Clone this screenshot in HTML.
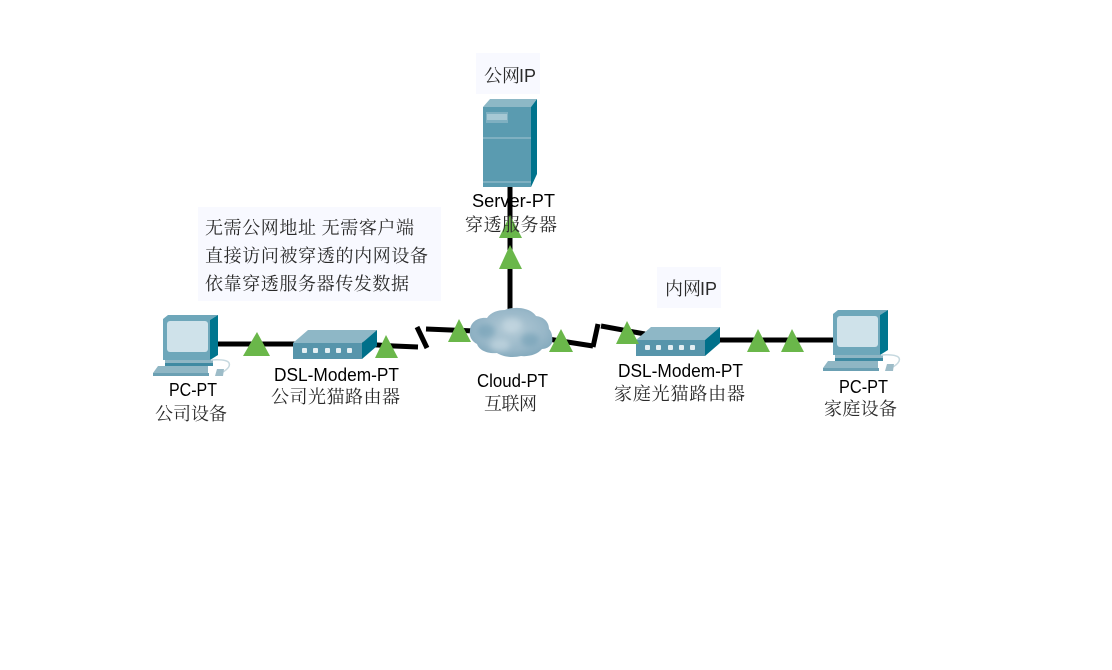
<!DOCTYPE html>
<html><head><meta charset="utf-8"><style>
html,body{margin:0;padding:0;background:#fff;width:1112px;height:670px;overflow:hidden}
svg{display:block}
.e{font-family:"Liberation Sans",sans-serif;font-size:18px;fill:#000}
.c{font-family:"Liberation Serif","Noto Serif CJK SC",serif;font-size:18px;fill:#2a2a2a}
.s{font-family:"Liberation Sans",sans-serif}
.l{fill:none;stroke:#000;stroke-width:5}
.t{fill:#6ab74a}
</style></head><body>
<svg width="1112" height="670" viewBox="0 0 1112 670" xmlns="http://www.w3.org/2000/svg">
<defs>
<radialGradient id="cl" cx="50%" cy="45%" r="62%"><stop offset="0" stop-color="#b3cad6"/><stop offset=".65" stop-color="#98b7c8"/><stop offset="1" stop-color="#7ea6ba"/></radialGradient>
<filter id="bl"><feGaussianBlur stdDeviation="3"/></filter>
<g id="pc">
<path d="M163 319l5-4h50l-8 5v40h-47z" fill="#6ea7ba"/>
<path d="M210 320l8-5v40l-8 5z" fill="#00768f"/>
<rect x="167" y="321" width="41" height="31" rx="3" fill="#cfe2ea"/>
<path d="M165 360h48v3h-48z" fill="#8fb6c4"/>
<path d="M165 363h48v3h-48z" fill="#3f8aa2"/>
<path d="M158 366h50v7h-55z" fill="#8fb6c4"/>
<rect x="153" y="373" width="56" height="3" fill="#6ba0b3"/>
<path d="M211 360q16-1 18 3t-6 9" fill="none" stroke="#c6d8df" stroke-width="1.5"/>
<path d="M217 369h7l-1 7h-8z" fill="#9dbcc8"/>
</g>
<g id="modem">
<path d="M293 343l15-13h69l-15 13z" fill="#8eb7c6"/>
<path d="M362 343l15-13v16l-15 13z" fill="#00708a"/>
<rect x="293" y="343" width="69" height="16" fill="#5795ab"/>
<g fill="#e4eff3"><rect x="302" y="348" width="5" height="5" rx="1"/><rect x="313" y="348" width="5" height="5" rx="1"/><rect x="325" y="348" width="5" height="5" rx="1"/><rect x="336" y="348" width="5" height="5" rx="1"/><rect x="347" y="348" width="5" height="5" rx="1"/></g>
</g>
</defs>
<rect width="1112" height="670" fill="#fff"/>
<rect x="198" y="207" width="243" height="94" fill="#f8f9ff"/>
<rect x="476" y="53" width="64" height="41" fill="#f8f9ff"/>
<rect x="657" y="267" width="64" height="41" fill="#f8f9ff"/>

<path class="l" d="M215 344H295"/>
<path class="l" d="M360 344L394 346L418 347"/>
<path class="l" d="M417 327L427 348"/>
<path class="l" d="M426 329L475 331"/>
<path class="l" d="M548 339L593 346"/>
<path class="l" d="M598 324L593 347"/>
<path class="l" d="M601 326L645 334"/>
<path class="l" d="M715 340H835"/>
<path class="l" d="M510 185V312"/>

<use href="#pc"/>
<use href="#pc" transform="translate(670 -5)"/>
<use href="#modem"/>
<use href="#modem" transform="translate(343 -3)"/>

<path d="M483 107l7-8h47l-6 8z" fill="#8db8c6"/>
<path d="M531 107l6-8v75l-6 13z" fill="#00738c"/>
<rect x="483" y="107" width="48" height="80" fill="#5a9bb0"/>
<rect x="486" y="112" width="22" height="11" fill="#7fb0c1"/>
<rect x="487" y="114" width="20" height="6" fill="#a6c8d4"/>
<rect x="483" y="137" width="48" height="2" fill="#7fb0c1"/>
<rect x="483" y="181" width="48" height="2" fill="#7fb0c1"/>

<path d="M470 331c0-9 8-14 17-13c4-6 11-8 18-8c3-2 14-3 20-1c5 1 9 4 11 7c8 1 13 6 13 13c3 3 4 9 3 14c-2 4-6 6-10 6c-4 5-13 8-21 7c-8 2-18 1-24-3c-10 1-18-3-20-9c-6-3-8-9-7-13z" fill="url(#cl)"/>
<g filter="url(#bl)" opacity=".55"><ellipse cx="486" cy="331" rx="9" ry="7" fill="#6d9cb3"/><ellipse cx="512" cy="325" rx="10" ry="7" fill="#cfdfe7"/><ellipse cx="500" cy="345" rx="10" ry="6" fill="#cfdfe7"/><ellipse cx="530" cy="340" rx="9" ry="7" fill="#6d9cb3"/></g>

<path class="t" d="M257 332L270 356H243z"/>
<path class="t" d="M386 335L398 358H375z"/>
<path class="t" d="M459 319L471 342H448z"/>
<path class="t" d="M561 329L573 352H549z"/>
<path class="t" d="M627 321L639 344H616z"/>
<path class="t" d="M758 329L770 352H747z"/>
<path class="t" d="M792 329L804 352H781z"/>
<path class="t" d="M510 215L522 238H499z"/>
<path class="t" d="M510 245L522 269H499z"/>

<text class="c" x="205" y="234" textLength="209" lengthAdjust="spacing">无需公网地址 无需客户端</text>
<text class="c" x="205" y="262" textLength="223" lengthAdjust="spacing">直接访问被穿透的内网设备</text>
<text class="c" x="205" y="290" textLength="204" lengthAdjust="spacing">依靠穿透服务器传发数据</text>
<text class="c" x="484" y="82">公网<tspan class="s" dx="-1">IP</tspan></text>
<text class="c" x="665" y="295">内网<tspan class="s" dx="-1">IP</tspan></text>

<text class="e" x="472" y="207" textLength="83" lengthAdjust="spacingAndGlyphs">Server-PT</text>
<text class="c" x="465" y="231" textLength="92" lengthAdjust="spacing">穿透服务器</text>
<text class="e" x="169" y="396" textLength="48" lengthAdjust="spacingAndGlyphs">PC-PT</text>
<text class="c" x="155" y="420" textLength="72" lengthAdjust="spacing">公司设备</text>
<text class="e" x="274" y="381" textLength="125" lengthAdjust="spacingAndGlyphs">DSL-Modem-PT</text>
<text class="c" x="271" y="403" textLength="129" lengthAdjust="spacing">公司光猫路由器</text>
<text class="e" x="477" y="387" textLength="71" lengthAdjust="spacingAndGlyphs">Cloud-PT</text>
<text class="c" x="484" y="410" textLength="53" lengthAdjust="spacing">互联网</text>
<text class="e" x="618" y="377" textLength="125" lengthAdjust="spacingAndGlyphs">DSL-Modem-PT</text>
<text class="c" x="614" y="400" textLength="131" lengthAdjust="spacing">家庭光猫路由器</text>
<text class="e" x="839" y="393" textLength="49" lengthAdjust="spacingAndGlyphs">PC-PT</text>
<text class="c" x="824" y="415" textLength="73" lengthAdjust="spacing">家庭设备</text>
</svg>
</body></html>
